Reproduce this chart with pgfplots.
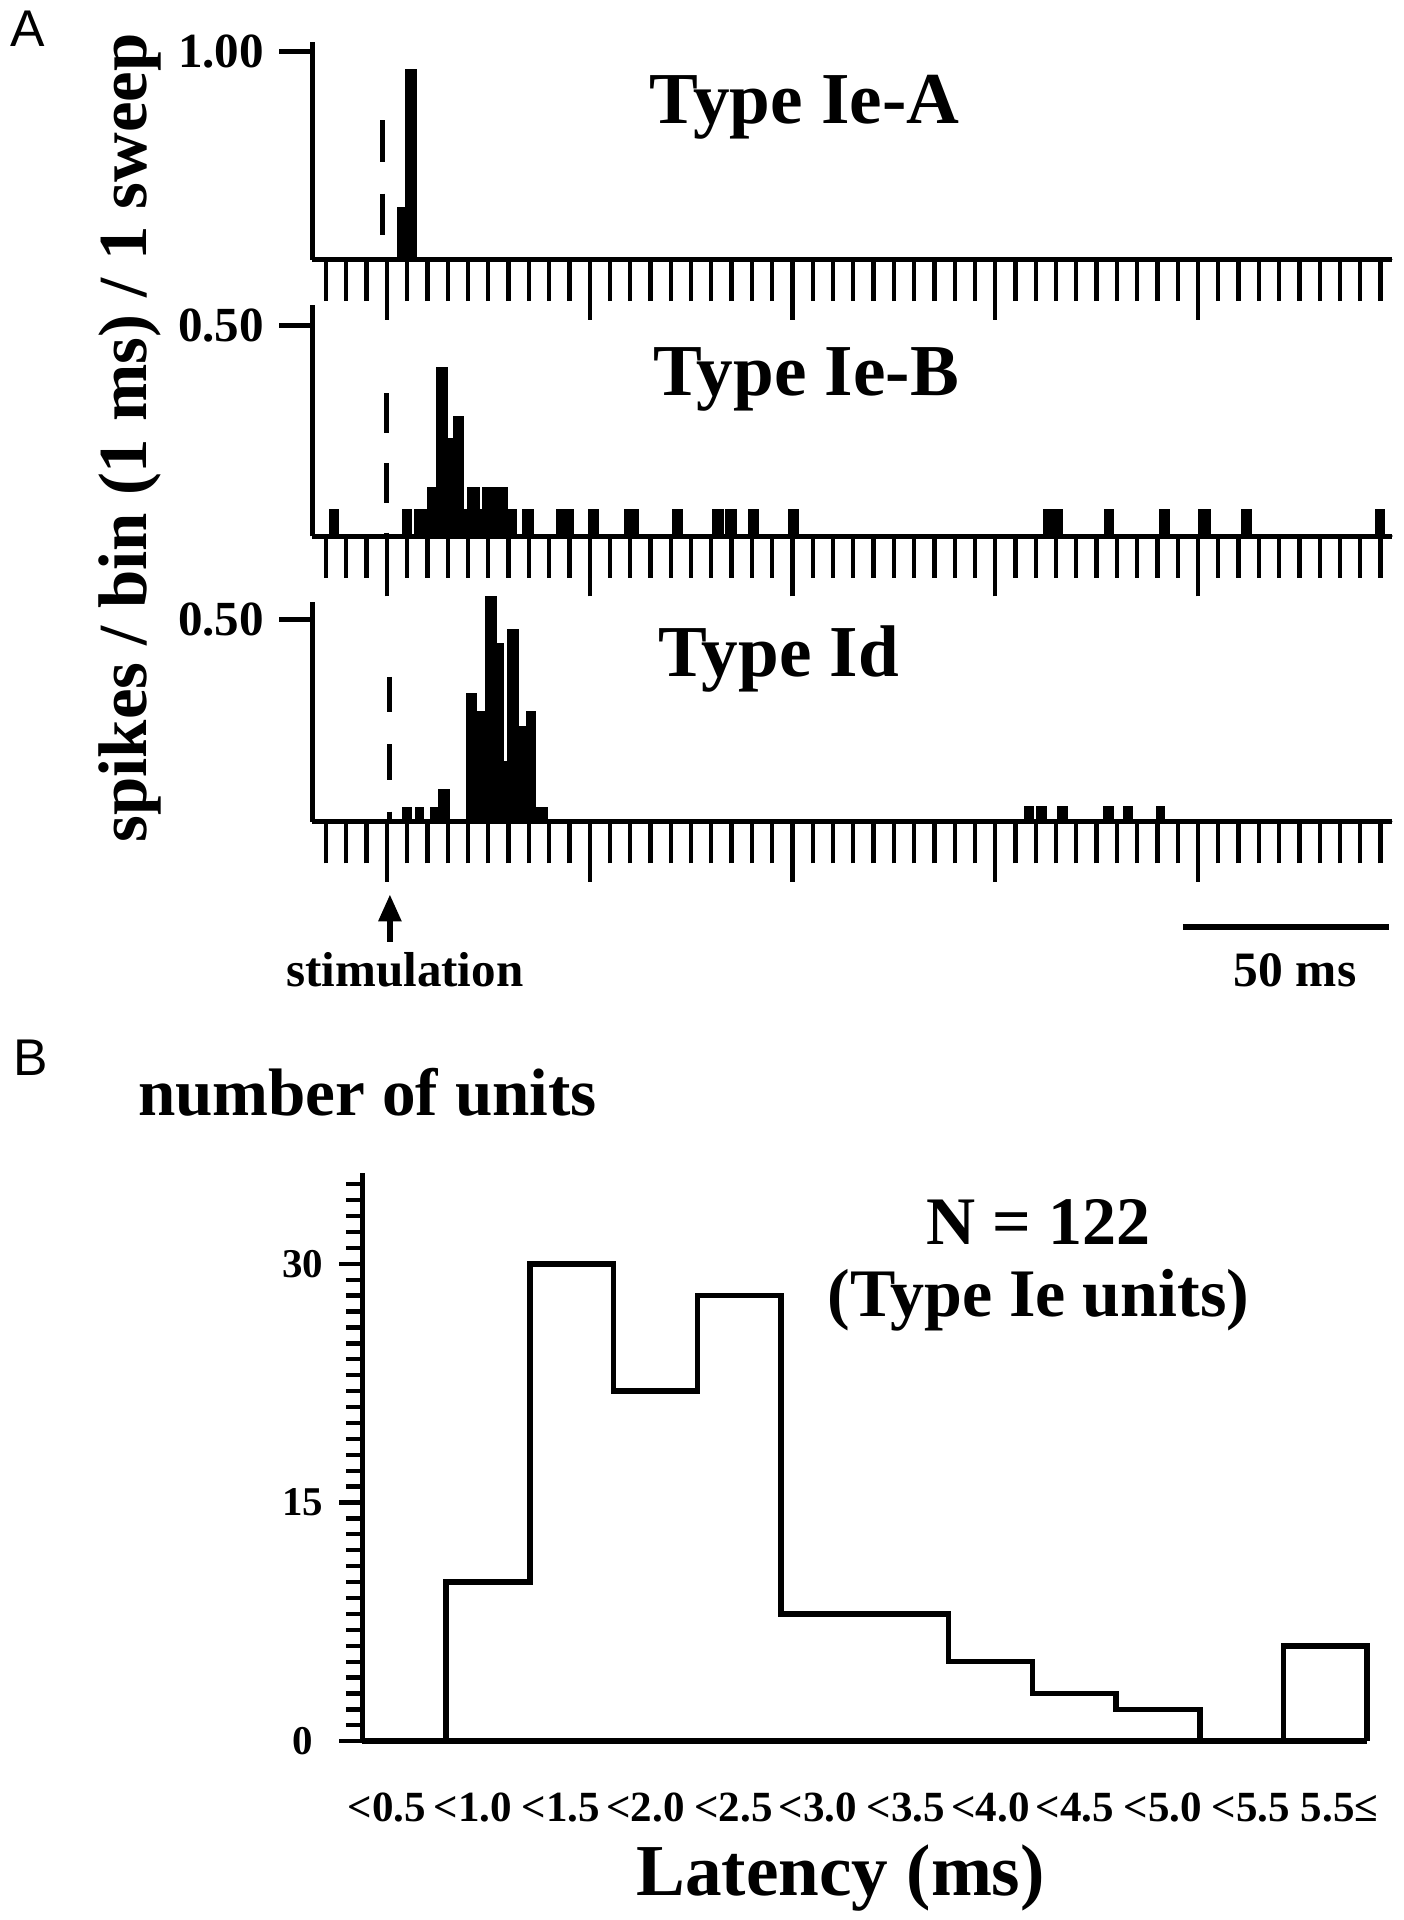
\documentclass[border=0pt]{standalone}
\usepackage{fontspec}
\setmainfont{Liberation Serif}
\newfontfamily\sansA{Liberation Sans}
\usepackage{pgfplots}
\pgfplotsset{compat=1.18}
\usetikzlibrary{arrows.meta}
\newcommand\fs[1]{\fontsize{#1}{#1}\selectfont}

\pgfplotsset{
  Ast/.style={
    scale only axis, anchor=south west,
    width=88.2mm, xmin=-18.4, xmax=247.9, ymin=0,
    axis x line*=bottom, axis y line*=left,
    axis line style={line width=1.2pt,-},
    tick align=outside,
    xtick={0,50,...,200}, xticklabels={},
    minor xtick={-15,-10,...,245},
    major tick length=4.9mm, minor tick length=3.4mm,
    tick style={line width=1pt, black},
    ytick=\empty,
    extra y tick style={major tick length=2.7mm},
    tick label style={font=\bfseries\fs{11.4}},
    clip=false,
  },
  hist/.style={const plot, fill=black, draw=black, line width=0.4pt},
}

\begin{document}
\begin{tikzpicture}
\useasboundingbox (0,0) rectangle (114.6mm,-156.8mm);

% ---------- Panel A1: Type Ie-A
\begin{axis}[Ast, at={(25.5mm,-21.2mm)}, height=17.8mm, ymax=1.047,
  extra y ticks={1}, extra y tick labels={1.00}]
\addplot[hist] coordinates {(-18.4,0) (2.6,0.25) (4.3,0) (4.8,0.91) (7.1,0) (247.9,0)} \closedcycle;
\addplot[line width=1.2pt, dash pattern=on 3.4mm off 2.6mm] coordinates {(-1.1,0.67) (-1.1,0)};
\end{axis}

% ---------- Panel A2: Type Ie-B
\begin{axis}[Ast, at={(25.5mm,-43.8mm)}, height=18.9mm, ymax=0.549,
  extra y ticks={0.5}, extra y tick labels={0.50}]
\addplot[hist] coordinates {(-18.4,0) (-14,0.062) (-12,0) (4,0.062) (6,0) (7,0.062) (10,0.116)
 (12.3,0.40) (14.8,0.232) (16.5,0.284) (18.7,0.062) (20,0.116) (22.8,0.062) (23.7,0.116)
 (29.6,0.062) (31.8,0) (33.6,0.062) (36,0) (41.8,0.062) (46,0) (49.7,0.062) (52,0)
 (58.6,0.062) (62,0) (70.5,0.062) (72.7,0) (80.4,0.062) (83,0) (83.5,0.062) (86,0)
 (89.2,0.062) (91.6,0) (99.1,0.062) (101.5,0) (162,0.062) (166.5,0) (177,0.062) (179,0)
 (190.7,0.062) (193,0) (200.3,0.062) (203,0) (210.8,0.062) (213,0) (243.8,0.062) (245.8,0)
 (247.9,0)} \closedcycle;
\addplot[line width=1.2pt, dash pattern=on 3.3mm off 2.4mm] coordinates {(0,0.34) (0,0)};
\end{axis}

% ---------- Panel A3: Type Id
\begin{axis}[Ast, at={(25.5mm,-67.1mm)}, height=17.9mm, ymax=0.542,
  extra y ticks={0.5}, extra y tick labels={0.50}]
\addplot[hist] coordinates {(-18.4,0) (4.05,0.033) (6.1,0) (7.2,0.033) (9,0) (10.8,0.033)
 (12.7,0.078) (15.4,0) (19.7,0.315) (22.1,0.272) (24.4,0.557) (26.9,0.439) (28.55,0.149)
 (29.95,0.474) (32.4,0.235) (34.5,0.271) (36.5,0.033) (39.4,0) (157.3,0.037) (159.4,0)
 (160.3,0.037) (162.5,0) (165.5,0.037) (167.7,0) (176.8,0.037) (179,0) (181.6,0.037)
 (183.8,0) (189.9,0.037) (191.6,0) (247.9,0)} \closedcycle;
\addplot[line width=1.2pt, dash pattern=on 2.9mm off 2.6mm] coordinates {(0.6,0.358) (0.6,0)};
\addplot[line width=1.3pt] coordinates {(196.3,-0.261) (247,-0.261)};
\draw[line width=1.3pt, -{Triangle[length=2.2mm,width=1.8mm]}] (axis cs:0.75,-0.297) -- (axis cs:0.75,-0.180);
\end{axis}

% ---------- Panel B
\begin{axis}[scale only axis, anchor=south west, at={(29.6mm,-142.2mm)},
  width=82.06mm, height=46.4mm, xmin=0, xmax=12, ymin=0, ymax=35.7,
  axis x line*=bottom, axis y line*=left, axis line style={line width=1.3pt,-},
  tick align=outside,
  ytick={0,15,30},
  yticklabels={\makebox[1.05em][c]{0},\makebox[1.05em][c]{15},\makebox[1.05em][c]{30}},
  minor ytick={1,...,35},
  xtick=\empty, minor xtick={0,...,12},
  extra x ticks={0.29,1.32,2.37,3.38,4.43,5.44,6.49,7.5,8.51,9.56,10.61,11.67},
  extra x tick labels={{<0.5},{<1.0},{<1.5},{<2.0},{<2.5},{<3.0},{<3.5},{<4.0},{<4.5},{<5.0},{<5.5},{5.5≤}},
  extra x tick style={major tick length=0pt, tick label style={yshift=-3.0mm, font=\bfseries\fs{10}}},
  major tick length=1.9mm, minor tick length=1.35mm,
  tick style={line width=1pt,black},
  yticklabel style={font=\bfseries\fs{9.5}},
  clip=false]
\addplot[line width=1.3pt] coordinates {(1,0) (1,10) (2,10) (2,30) (3,30) (3,22) (4,22) (4,28)
 (5,28) (5,8) (7,8) (7,5) (8,5) (8,3) (9,3) (9,2) (10,2) (10,0)};
\addplot[line width=1.3pt] coordinates {(11,0) (11,6) (12,6) (12,0)};
\end{axis}

% ---------- Texts
\node[anchor=base west, inner sep=0, font=\sansA\fs{12}] at (0.8mm,-3.8mm) {A};
\node[anchor=base west, inner sep=0, font=\sansA\fs{12}] at (1.0mm,-87.8mm) {B};
\node[rotate=90, anchor=base, inner sep=0, font=\bfseries\fs{16}] at (12.0mm,-35.75mm) {spikes / bin (1 ms) / 1 sweep};
\node[anchor=base west, inner sep=0, font=\bfseries\fs{17}] at (53.0mm,-10.06mm) {Type Ie-A};
\node[anchor=base west, inner sep=0, font=\bfseries\fs{17}] at (53.3mm,-32.26mm) {Type Ie-B};
\node[anchor=base west, inner sep=0, font=\bfseries\fs{17}] at (53.7mm,-55.27mm) {Type Id};
\node[anchor=base west, inner sep=0, font=\bfseries\fs{11.4}] at (23.3mm,-80.6mm) {stimulation};
\node[anchor=base west, inner sep=0, font=\bfseries\fs{11.5}] at (100.7mm,-80.6mm) {50 ms};
\node[anchor=base west, inner sep=0, font=\bfseries\fs{15.6}] at (11.2mm,-91.1mm) {number of units};
\node[anchor=base west, inner sep=0, font=\bfseries\fs{15.8}] at (75.6mm,-101.6mm) {N = 122};
\node[anchor=base west, inner sep=0, font=\bfseries\fs{15.8}] at (67.5mm,-107.5mm) {(Type Ie units)};
\node[anchor=base west, inner sep=0, font=\bfseries\fs{17}] at (51.9mm,-154.8mm) {Latency (ms)};
\end{tikzpicture}
\end{document}
